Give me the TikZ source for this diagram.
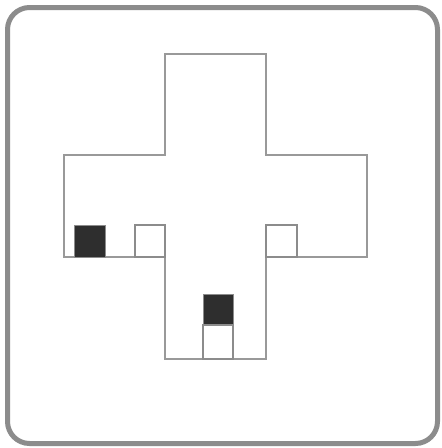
\documentclass[tikz,border=0pt]{standalone}
\begin{document}
\begin{tikzpicture}[x=1pt,y=-1pt,
  frame/.style={draw=black!45,line width=5pt,rounded corners=22pt},
  crossline/.style={draw=black!40,line width=1.1pt},
  darkbox/.style={fill=black!82,draw=black!45,line width=0.8pt},
  lightbox/.style={fill=white,draw=black!45,line width=1.1pt}]
\useasboundingbox (0,0) rectangle (442,448);
\fill[white] (0,0) rectangle (442,448);
\draw[frame] (7.5,7.5) rectangle (437.5,443.5);
\draw[crossline] (165,54) -- (266,54) -- (266,155) -- (367,155) -- (367,257) -- (266,257)
  -- (266,359) -- (165,359) -- (165,257) -- (64,257) -- (64,155) -- (165,155) -- cycle;
\draw[darkbox] (74,225) rectangle (105,257);
\draw[lightbox] (135,225) rectangle (165,257);
\draw[lightbox] (266,225) rectangle (297,257);
\draw[darkbox] (203,294) rectangle (233,325);
\draw[lightbox] (203,325) rectangle (233,359);
\end{tikzpicture}
\end{document}
